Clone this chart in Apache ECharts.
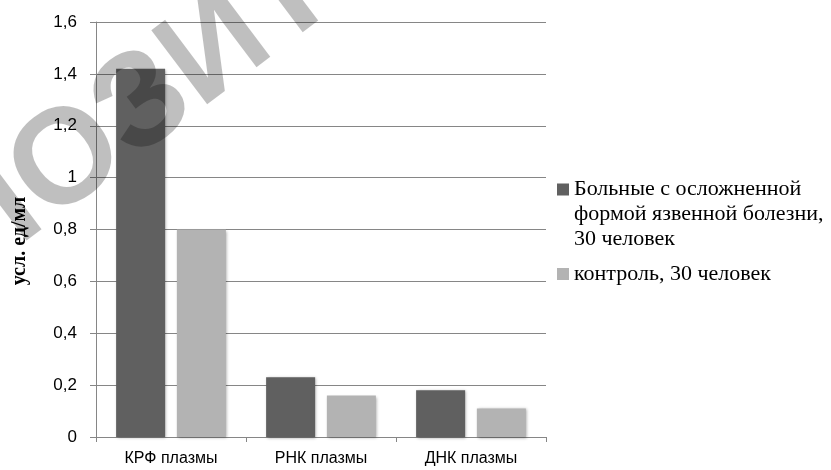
<!DOCTYPE html>
<html>
<head>
<meta charset="utf-8">
<script src="https://cdn.jsdelivr.net/npm/echarts@6/dist/echarts.min.js"></script>
<style>
  html, body { margin: 0; padding: 0; background: #fff; }
  #chart { width: 831px; height: 470px; }
</style>
</head>
<body>
<div id="chart"></div>
<script>
// Categories and values (усл. ед/мл)
const categories = ['КРФ плазмы', 'РНК плазмы', 'ДНК плазмы'];
const patientsName = 'Больные с осложненной формой язвенной болезни, 30 человек';
const controlName = 'контроль, 30 человек';
const patientsValues = [1.42, 0.23, 0.18];
const controlValues = [0.80, 0.16, 0.11];
const yAxisTitle = 'усл. ед/мл';
const watermarkText = 'РЕПОЗИТОРИЙ';

const chart = echarts.init(document.getElementById('chart'), null, { renderer: 'canvas' });

const barShadow = {
  shadowColor: 'rgba(0,0,0,0.35)',
  shadowBlur: 3,
  shadowOffsetX: 1,
  shadowOffsetY: 1
};

const legendText = {
  fontFamily: '"Liberation Serif", "Times New Roman", serif',
  fontSize: 22,
  lineHeight: 25,
  color: '#000'
};

chart.setOption({
  animation: false,
  backgroundColor: '#fff',
  grid: { left: 96, right: 285, top: 22, bottom: 33, containLabel: false },
  legend: [
    {
      // square aligned with the first of three text lines
      data: [{ name: patientsName,
               icon: 'path://M0,0L12,0L12,0Z M0,6.5L12,6.5L12,18.5L0,18.5Z M0,75L12,75L12,75Z' }],
      orient: 'vertical',
      left: 557, top: 177, padding: 0,
      itemWidth: 12, itemHeight: 75,
      selectedMode: false,
      formatter: () => 'Больные с осложненной\nформой язвенной болезни,\n30 человек',
      textStyle: legendText
    },
    {
      data: [{ name: controlName, icon: 'rect' }],
      orient: 'vertical',
      left: 557, top: 261.5, padding: 0,
      itemWidth: 12, itemHeight: 12,
      selectedMode: false,
      textStyle: legendText
    }
  ],
  xAxis: {
    type: 'category',
    data: categories,
    axisLine: { lineStyle: { color: '#868686', width: 1 } },
    axisTick: { show: true, length: 5, lineStyle: { color: '#868686' } },
    axisLabel: {
      margin: 14,
      color: '#000',
      fontFamily: '"Liberation Sans", Arial, sans-serif',
      fontSize: 16
    },
    splitLine: { show: false }
  },
  yAxis: {
    type: 'value',
    min: 0, max: 1.6, interval: 0.2,
    name: yAxisTitle,
    nameLocation: 'middle',
    nameGap: 66,
    nameRotate: 90,
    nameTextStyle: {
      fontFamily: '"Liberation Serif", "Times New Roman", serif',
      fontWeight: 'bold',
      fontSize: 20,
      color: '#000',
      padding: [0, 23, 0, 0]
    },
    axisLine: { show: true, lineStyle: { color: '#868686', width: 1 } },
    axisTick: { show: true, length: 6, lineStyle: { color: '#868686' } },
    axisLabel: {
      margin: 19,
      color: '#000',
      fontFamily: '"Liberation Sans", Arial, sans-serif',
      fontSize: 17,
      formatter: v => (Math.round(v * 10) / 10).toString().replace('.', ',')
    },
    splitLine: { show: true, lineStyle: { color: '#868686', width: 1 } }
  },
  series: [
    {
      name: patientsName,
      type: 'bar',
      data: patientsValues,
      barWidth: 49,
      barGap: '24%',
      itemStyle: Object.assign({ color: '#606060' }, barShadow)
    },
    {
      name: controlName,
      type: 'bar',
      data: controlValues,
      barWidth: 49,
      itemStyle: Object.assign({ color: '#b3b3b3' }, barShadow)
    }
  ],
  graphic: [
    {
      // translucent diagonal watermark over the plot
      type: 'text',
      z: 100,
      silent: true,
      x: -195, y: 361,
      rotation: 0.646,
      style: {
        text: watermarkText,
        font: 'bold 135px "Liberation Sans", Arial, sans-serif',
        fill: 'rgba(0,0,0,0.25)',
        align: 'left',
        verticalAlign: 'middle'
      }
    }
  ]
});
</script>
</body>
</html>
